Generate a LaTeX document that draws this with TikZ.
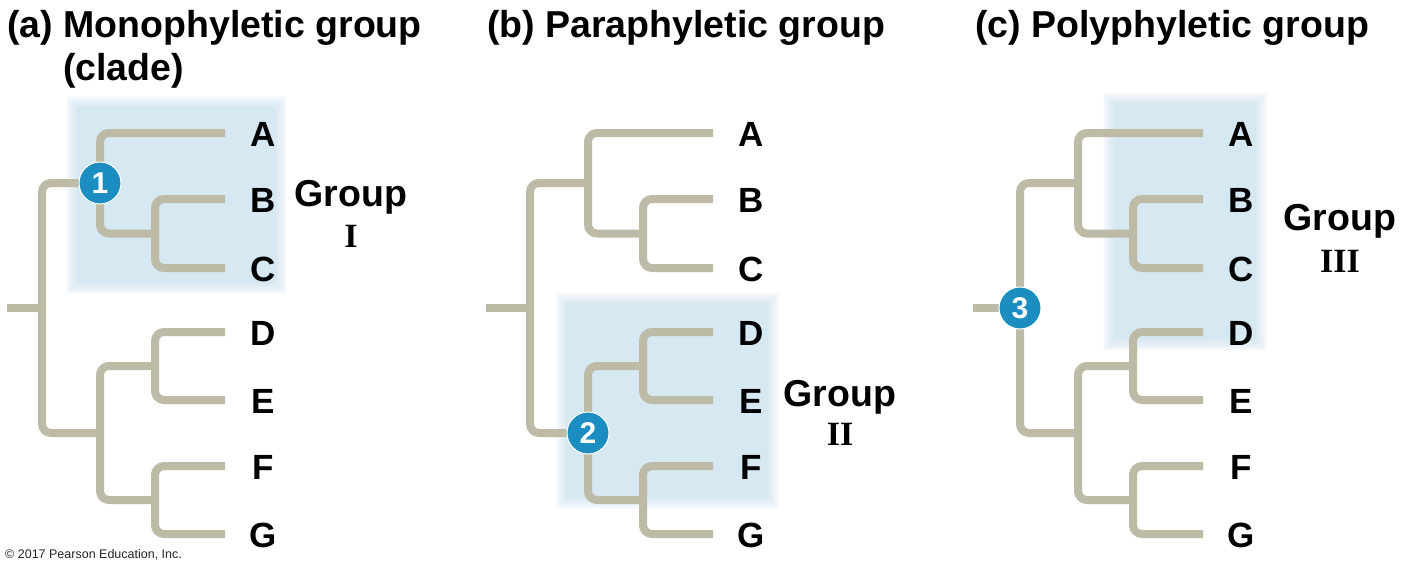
\documentclass[tikz,border=0pt]{standalone}
\usepackage{fontspec}
\setmainfont{Liberation Sans}
\newfontfamily\romanbf{Liberation Serif}
\definecolor{branchcol}{HTML}{BDBAA6}
\definecolor{shadecol}{HTML}{D6E8F2}
\definecolor{circcol}{HTML}{1B8DC1}
\newcommand{\softbox}[4]{%
  \foreach \d in {1,...,14}{%
    \fill[shadecol, opacity=0.09] ({#1-\d*0.8},{#2-\d*0.8}) rectangle ({#3+\d*0.8},{#4+\d*0.8});
  }%
  \fill[shadecol] (#1,#2) rectangle (#3,#4);
}
\newcommand{\phylotree}[3]{%
  \coordinate (#1stub) at (#3,308);
  \coordinate (#1root) at (#2,308);
  \coordinate (#1ABC) at ({#2+58},183);
  \coordinate (#1BC) at ({#2+113},233.5);
  \coordinate (#1DG) at ({#2+58},433);
  \coordinate (#1DE) at ({#2+113},366);
  \coordinate (#1FG) at ({#2+113},500);
  \foreach \L/\Y in {A/133,B/199,C/268,D/332,E/400,F/466,G/534}{%
    \coordinate (#1t\L) at ({#2+183},\Y);
    \node[leaf] (#1l\L) at ({#2+221},{\Y+1}) {\L};
  }%
  \draw[branch] (#1stub) -- (#1root);
  \draw[branch] (#1ABC) -| (#1root) |- (#1DG);
  \draw[branch] (#1tA) -| (#1ABC) |- (#1BC);
  \draw[branch] (#1tB) -| (#1BC) |- (#1tC);
  \draw[branch] (#1DE) -| (#1DG) |- (#1FG);
  \draw[branch] (#1tD) -| (#1DE) |- (#1tE);
  \draw[branch] (#1tF) -| (#1FG) |- (#1tG);
}
\begin{document}
\begin{tikzpicture}[x=1pt,y=-1pt,
  branch/.style={draw=branchcol, line width=8pt, rounded corners=9pt},
  leaf/.style={font=\fontsize{35}{35}\selectfont\bfseries, inner sep=0pt, text height=25pt, text depth=0pt},
  title/.style={font=\fontsize{37.5}{37.5}\selectfont\bfseries, inner sep=0pt, anchor=base west},
  grp/.style={font=\fontsize{37.5}{37.5}\selectfont\bfseries, inner sep=0pt, anchor=base},
  roman/.style={font=\fontsize{34}{34}\selectfont\romanbf\bfseries, inner sep=0pt, anchor=base},
  num/.style={circle, fill=circcol, draw=white, line width=1pt, minimum size=42pt, inner sep=0pt,
    text=white, font=\fontsize{30}{30}\selectfont\bfseries}
]
\useasboundingbox[fill=white] (0,0) rectangle (1402,571);

% highlighted groups
\softbox{77}{107}{276}{283}
\softbox{567}{304}{768}{498}
\softbox{1114}{104}{1256}{340}

% trees
\phylotree{a}{42}{7}
\phylotree{b}{530}{486}
\phylotree{c}{1020}{973}

% numbered nodes
\node[num] (n1) at (aABC) {1};
\node[num] (n2) at (bDG) {2};
\node[num] (n3) at (croot) {3};

% titles
\node[title] (ta) at (7,37) {(a) Monophyletic group};
\node[title] (ta2) at (63,80) {(clade)};
\node[title] (tb) at (487,37) {(b) Paraphyletic group};
\node[title] (tc) at (975,37) {(c) Polyphyletic group};

% group labels
\node[grp] (ga) at (351,206) {Group};
\node[roman] (ra) at (351,247) {I};
\node[grp] (gb) at (840,406) {Group};
\node[roman] (rb) at (840,445) {II};
\node[grp] (gc) at (1340,230) {Group};
\node[roman] (rc) at (1340,272) {III};

% copyright
\node[anchor=base west, inner sep=0pt, font=\fontsize{12.5}{14}\selectfont, text=black!85] (copy) at (5,558) {© 2017 Pearson Education, Inc.};
\end{tikzpicture}
\end{document}
